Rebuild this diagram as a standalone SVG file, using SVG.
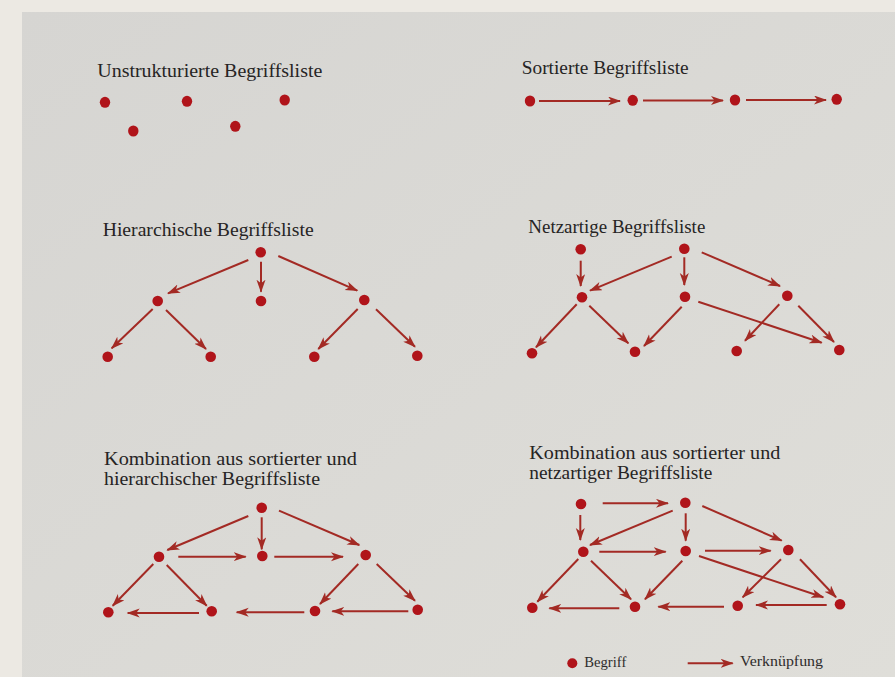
<svg xmlns="http://www.w3.org/2000/svg" width="895" height="677" viewBox="0 0 895 677">
<defs>
<linearGradient id="bg" x1="0" y1="0" x2="1" y2="1">
<stop offset="0" stop-color="#d6d5d2"/>
<stop offset="1" stop-color="#dfded9"/>
</linearGradient>
<marker id="ah" markerUnits="userSpaceOnUse" markerWidth="14" markerHeight="10" refX="12" refY="4.5" orient="auto">
<path d="M0,0 L13,4.5 L0,9 L3.5,4.5 z" fill="#a32a24"/>
</marker>
</defs>
<style>
.t{font-family:"Liberation Serif","Times New Roman",serif;font-size:18px;fill:#262424}
.l{font-family:"Liberation Serif","Times New Roman",serif;font-size:14px;fill:#2e2c2c}
.d{fill:#b0141a}
.c line{stroke:#a32a24;stroke-width:2;marker-end:url(#ah)}
</style>
<rect width="895" height="677" fill="#ece9e3"/>
<rect x="22" y="12" width="873" height="665" fill="url(#bg)"/>

<g id="titles">
<text class="t" x="97.3" y="77" textLength="225" lengthAdjust="spacingAndGlyphs">Unstrukturierte Begriffsliste</text>
<text class="t" x="521.7" y="73.5" textLength="167" lengthAdjust="spacingAndGlyphs">Sortierte Begriffsliste</text>
<text class="t" x="102.7" y="235.5" textLength="211" lengthAdjust="spacingAndGlyphs">Hierarchische Begriffsliste</text>
<text class="t" x="528.3" y="233" textLength="177" lengthAdjust="spacingAndGlyphs">Netzartige Begriffsliste</text>
<text class="t" x="104" y="465" textLength="253" lengthAdjust="spacingAndGlyphs">Kombination aus sortierter und</text>
<text class="t" x="104" y="485" textLength="216" lengthAdjust="spacingAndGlyphs">hierarchischer Begriffsliste</text>
<text class="t" x="529.3" y="458.5" textLength="251" lengthAdjust="spacingAndGlyphs">Kombination aus sortierter und</text>
<text class="t" x="529.3" y="479" textLength="183" lengthAdjust="spacingAndGlyphs">netzartiger Begriffsliste</text>
</g>

<g id="connectors" class="c">
<line x1="539" y1="101" x2="620" y2="101"/>
<line x1="643" y1="100.5" x2="723" y2="100.5"/>
<line x1="746" y1="100" x2="826" y2="100"/>

<line x1="248.3" y1="260" x2="168" y2="293.3"/>
<line x1="261" y1="261.7" x2="261" y2="291.7"/>
<line x1="278.3" y1="256" x2="357.3" y2="290.7"/>
<line x1="152.7" y1="309" x2="111.7" y2="348.3"/>
<line x1="166" y1="310" x2="206" y2="349"/>
<line x1="357.7" y1="309" x2="318.3" y2="349"/>
<line x1="376" y1="309.3" x2="415" y2="346.7"/>

<line x1="580.7" y1="260.7" x2="580.7" y2="286"/>
<line x1="671.7" y1="256.7" x2="590" y2="290.7"/>
<line x1="684.3" y1="257.3" x2="684.3" y2="285"/>
<line x1="701.7" y1="252.3" x2="780" y2="286"/>
<line x1="576.7" y1="304.3" x2="536" y2="347.3"/>
<line x1="589.3" y1="305.7" x2="628.3" y2="343.3"/>
<line x1="681.7" y1="306.7" x2="644" y2="346"/>
<line x1="698.3" y1="301.7" x2="821.7" y2="342.7"/>
<line x1="779.3" y1="304.3" x2="745" y2="340.7"/>
<line x1="798.3" y1="305.7" x2="834" y2="342"/>

<line x1="248.3" y1="516" x2="167.3" y2="550"/>
<line x1="261.7" y1="517.3" x2="261.7" y2="549.3"/>
<line x1="279" y1="510.7" x2="359.3" y2="545"/>
<line x1="178.3" y1="556.7" x2="245.7" y2="556.7"/>
<line x1="274.3" y1="556.7" x2="343" y2="556.7"/>
<line x1="153.3" y1="564" x2="112.7" y2="605.7"/>
<line x1="166.7" y1="565" x2="206.7" y2="605.7"/>
<line x1="358.3" y1="564" x2="320" y2="604"/>
<line x1="376.7" y1="564" x2="415" y2="600.7"/>
<line x1="199" y1="613" x2="127.7" y2="613"/>
<line x1="304.3" y1="612.3" x2="236.7" y2="612.3"/>
<line x1="408.3" y1="611.3" x2="332.3" y2="611.3"/>

<line x1="602.7" y1="503.3" x2="668" y2="503.3"/>
<line x1="580.3" y1="515" x2="580.3" y2="540"/>
<line x1="672.7" y1="510.7" x2="590" y2="545"/>
<line x1="685.7" y1="513.3" x2="685.7" y2="540.7"/>
<line x1="702.3" y1="506" x2="781.7" y2="540.7"/>
<line x1="599.3" y1="551.7" x2="665.7" y2="551.7"/>
<line x1="705" y1="550.7" x2="770.7" y2="550.7"/>
<line x1="578.3" y1="559" x2="537.3" y2="601.7"/>
<line x1="591" y1="560.7" x2="631" y2="599.3"/>
<line x1="682.3" y1="560.7" x2="645" y2="599.3"/>
<line x1="699" y1="556" x2="823.3" y2="597.3"/>
<line x1="781" y1="559.3" x2="742.7" y2="597.3"/>
<line x1="800" y1="559.3" x2="836" y2="597.3"/>
<line x1="619.3" y1="608.3" x2="549.3" y2="608.3"/>
<line x1="724" y1="606.7" x2="658.3" y2="606.7"/>
<line x1="826.7" y1="605" x2="756" y2="605"/>

<line x1="687.7" y1="663.3" x2="732.7" y2="663.3"/>
</g>

<g id="nodes" class="d">
<g id="u1"><ellipse cx="105" cy="102.3" rx="5.2" ry="5.5"/></g>
<g id="u2"><ellipse cx="187" cy="101.3" rx="5.2" ry="5.5"/></g>
<g id="u3"><ellipse cx="284.7" cy="100" rx="5.2" ry="5.5"/></g>
<g id="u4"><ellipse cx="133.3" cy="131" rx="5.2" ry="5.5"/></g>
<g id="u5"><ellipse cx="235.3" cy="126.3" rx="5.2" ry="5.5"/></g>

<g id="s1"><ellipse cx="530" cy="101" rx="5.2" ry="5.5"/></g>
<g id="s2"><ellipse cx="632.7" cy="100.3" rx="5.2" ry="5.5"/></g>
<g id="s3"><ellipse cx="735" cy="100" rx="5.2" ry="5.5"/></g>
<g id="s4"><ellipse cx="836.7" cy="99.3" rx="5.2" ry="5.5"/></g>

<g id="h1"><circle cx="260.7" cy="252.3" r="5.3"/></g>
<g id="h2"><circle cx="157.7" cy="301" r="5.3"/></g>
<g id="h3"><circle cx="261" cy="301" r="5.3"/></g>
<g id="h4"><circle cx="364.3" cy="300" r="5.3"/></g>
<g id="h5"><circle cx="107.7" cy="356.7" r="5.3"/></g>
<g id="h6"><circle cx="210.7" cy="356.7" r="5.3"/></g>
<g id="h7"><circle cx="314.3" cy="356.7" r="5.3"/></g>
<g id="h8"><circle cx="417.3" cy="355.7" r="5.3"/></g>

<g id="n1"><circle cx="580.7" cy="249.3" r="5.3"/></g>
<g id="n2"><circle cx="684.3" cy="248.7" r="5.3"/></g>
<g id="n3"><circle cx="582" cy="297.3" r="5.3"/></g>
<g id="n4"><circle cx="685" cy="296.7" r="5.3"/></g>
<g id="n5"><circle cx="787.3" cy="295.7" r="5.3"/></g>
<g id="n6"><circle cx="532" cy="353.3" r="5.3"/></g>
<g id="n7"><circle cx="635" cy="351.7" r="5.3"/></g>
<g id="n8"><circle cx="736.7" cy="351" r="5.3"/></g>
<g id="n9"><circle cx="839.3" cy="350" r="5.3"/></g>

<g id="kh1"><circle cx="261.7" cy="507.7" r="5.3"/></g>
<g id="kh2"><circle cx="159" cy="556.7" r="5.3"/></g>
<g id="kh3"><circle cx="262.3" cy="556" r="5.3"/></g>
<g id="kh4"><circle cx="365.7" cy="555" r="5.3"/></g>
<g id="kh5"><circle cx="108.3" cy="612.3" r="5.3"/></g>
<g id="kh6"><circle cx="211.7" cy="611.3" r="5.3"/></g>
<g id="kh7"><circle cx="315" cy="611" r="5.3"/></g>
<g id="kh8"><circle cx="417.7" cy="609.7" r="5.3"/></g>

<g id="kn1"><circle cx="581" cy="504" r="5.3"/></g>
<g id="kn2"><circle cx="685.3" cy="502.7" r="5.3"/></g>
<g id="kn3"><circle cx="583.3" cy="551.7" r="5.3"/></g>
<g id="kn4"><circle cx="685.7" cy="551" r="5.3"/></g>
<g id="kn5"><circle cx="788.3" cy="550" r="5.3"/></g>
<g id="kn6"><circle cx="532.3" cy="607.7" r="5.3"/></g>
<g id="kn7"><circle cx="635" cy="606.7" r="5.3"/></g>
<g id="kn8"><circle cx="737.7" cy="605.7" r="5.3"/></g>
<g id="kn9"><circle cx="840" cy="604.3" r="5.3"/></g>

<g id="legend-dot"><circle cx="572.3" cy="663.3" r="5"/></g>
</g>

<g id="legend">
<text class="l" x="584.3" y="667" textLength="42" lengthAdjust="spacingAndGlyphs">Begriff</text>
<text class="l" x="740" y="666" textLength="83" lengthAdjust="spacingAndGlyphs">Verknüpfung</text>
</g>
</svg>
